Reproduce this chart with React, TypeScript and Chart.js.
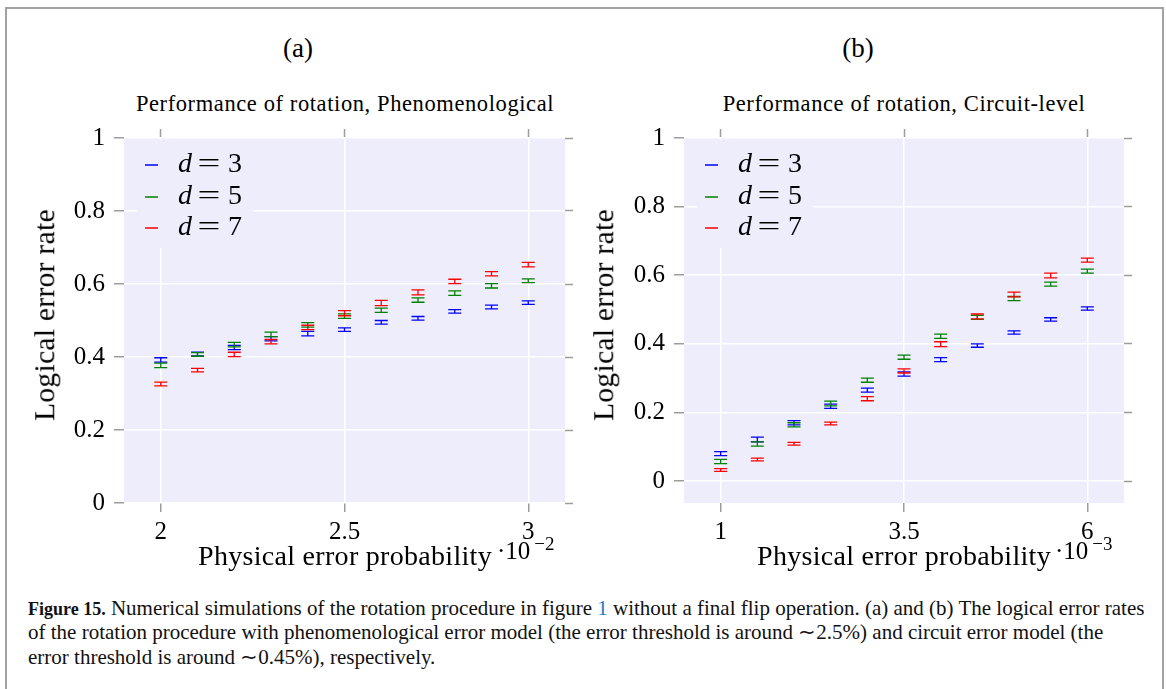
import React, { useEffect, useRef } from "react";
import { Chart, registerables } from "chart.js";

Chart.register(...registerables);

// ---------- data ----------
const SERIES_LABELS = ["3", "5", "7"];
const SERIES_COLORS = ["#0000ff", "#008000", "#ff0000"];

// (a) phenomenological, x in units of 10^-2
const PHEN_X = [2.0, 2.1, 2.2, 2.3, 2.4, 2.5, 2.6, 2.7, 2.8, 2.9, 3.0];
const PHEN_D3 = [0.392, 0.408, 0.426, 0.45, 0.464, 0.475, 0.495, 0.506, 0.525, 0.537, 0.549];
const PHEN_D5 = [0.377, 0.407, 0.434, 0.462, 0.488, 0.512, 0.528, 0.556, 0.575, 0.595, 0.609];
const PHEN_D7 = [0.326, 0.364, 0.407, 0.442, 0.481, 0.52, 0.548, 0.577, 0.607, 0.628, 0.653];
const PHEN_ERR_D3 = [0.006, 0.005, 0.006, 0.006, 0.006, 0.005, 0.005, 0.005, 0.005, 0.005, 0.005];
const PHEN_ERR_D5 = [0.006, 0.005, 0.006, 0.006, 0.006, 0.006, 0.006, 0.006, 0.006, 0.006, 0.005];
const PHEN_ERR_D7 = [0.005, 0.005, 0.006, 0.006, 0.006, 0.007, 0.007, 0.007, 0.006, 0.006, 0.006];
const PHEN_X_TICKS = [2, 2.5, 3];
const PHEN_Y_TICKS = [0, 0.2, 0.4, 0.6, 0.8, 1];

// (b) circuit-level, x in units of 10^-3
const CIRC_X = [1, 1.5, 2, 2.5, 3, 3.5, 4, 4.5, 5, 5.5, 6];
const CIRC_D3 = [0.08, 0.121, 0.17, 0.218, 0.265, 0.312, 0.354, 0.395, 0.433, 0.471, 0.503];
const CIRC_D5 = [0.057, 0.108, 0.164, 0.226, 0.294, 0.361, 0.422, 0.477, 0.532, 0.574, 0.612];
const CIRC_D7 = [0.032, 0.063, 0.109, 0.168, 0.24, 0.321, 0.399, 0.48, 0.544, 0.599, 0.644];
const CIRC_ERR_D3 = [0.006, 0.007, 0.006, 0.006, 0.006, 0.006, 0.006, 0.005, 0.005, 0.005, 0.005];
const CIRC_ERR_D5 = [0.006, 0.006, 0.006, 0.007, 0.006, 0.006, 0.006, 0.006, 0.006, 0.006, 0.006];
const CIRC_ERR_D7 = [0.004, 0.004, 0.004, 0.004, 0.006, 0.006, 0.007, 0.007, 0.007, 0.007, 0.006];
const CIRC_X_TICKS = [1, 3.5, 6];
const CIRC_Y_TICKS = [0, 0.2, 0.4, 0.6, 0.8, 1];

// ---------- style ----------
const FONT = '"Liberation Serif", "Times New Roman", serif';
const BG = "rgb(237,237,252)";
const TICK_GRAY = "#9c9c9c";
const CAP = 6.5;

const bgPlugin = {
  id: "plotBg",
  beforeDraw(chart: any) {
    const { ctx, chartArea: a } = chart;
    ctx.save();
    ctx.fillStyle = BG;
    ctx.fillRect(a.left, a.top, a.right - a.left, a.bottom - a.top);
    ctx.restore();
  },
};

const errorBarPlugin = {
  id: "errorBars",
  afterDatasetsDraw(chart: any) {
    const ctx = chart.ctx;
    const xs = chart.scales.x;
    const ys = chart.scales.y;
    chart.data.datasets.forEach((ds: any) => {
      ctx.save();
      ctx.strokeStyle = ds.borderColor;
      ctx.lineWidth = 1.3;
      ds.data.forEach((pt: any, i: number) => {
        const e = ds.errors[i];
        const px = xs.getPixelForValue(pt.x);
        const yLo = ys.getPixelForValue(pt.y - e);
        const yHi = ys.getPixelForValue(pt.y + e);
        ctx.beginPath();
        ctx.moveTo(px, yLo);
        ctx.lineTo(px, yHi);
        ctx.moveTo(px - CAP, yLo);
        ctx.lineTo(px + CAP, yLo);
        ctx.moveTo(px - CAP, yHi);
        ctx.lineTo(px + CAP, yHi);
        ctx.stroke();
      });
      ctx.restore();
    });
  },
};

const legendPlugin = {
  id: "mathLegend",
  afterDraw(chart: any) {
    const { ctx, chartArea: a } = chart;
    ctx.save();
    ctx.fillStyle = BG;
    ctx.fillRect(a.left + 13, a.top + 2, 116, 108);
    const rows = [27, 59, 90];
    chart.data.datasets.forEach((ds: any, i: number) => {
      const y = a.top + rows[i];
      ctx.strokeStyle = ds.borderColor;
      ctx.lineWidth = 1.5;
      ctx.beginPath();
      ctx.moveTo(a.left + 21, y);
      ctx.lineTo(a.left + 34, y);
      ctx.stroke();
      ctx.fillStyle = "#000";
      ctx.textBaseline = "middle";
      ctx.textAlign = "left";
      ctx.font = `italic 28px ${FONT}`;
      ctx.fillText("d", a.left + 54, y);
      ctx.font = `28px ${FONT}`;
      ctx.save();
      ctx.translate(a.left + 85, y);
      ctx.scale(1.45, 1);
      ctx.textAlign = "center";
      ctx.fillText("=", 0, 0);
      ctx.restore();
      ctx.fillText(ds.label, a.left + 104, y);
    });
    ctx.restore();
  },
};

type Panel = {
  xs: number[];
  series: number[][];
  errors: number[][];
  xTicks: number[];
  yTicks: number[];
  xMin: number;
  xMax: number;
  yMin: number;
  yMax: number;
  rightPad: number;
};

function setTicks(values: number[]) {
  return (s: any) => {
    s.ticks = values.map((v) => ({ value: v }));
  };
}

function buildConfig(p: Panel): any {
  const datasets = p.series.map((vals, si) => ({
    label: SERIES_LABELS[si],
    data: p.xs.map((x, i) => ({ x, y: vals[i] })),
    errors: p.errors[si],
    borderColor: SERIES_COLORS[si],
    backgroundColor: SERIES_COLORS[si],
    pointRadius: 0,
    pointHoverRadius: 0,
    showLine: false,
  }));
  const tickFont = { family: FONT, size: 25 };
  return {
    type: "scatter",
    data: { datasets },
    options: {
      responsive: false,
      animation: false,
      devicePixelRatio: 1,
      layout: { padding: 0 },
      plugins: { legend: { display: false }, tooltip: { enabled: false }, title: { display: false } },
      scales: {
        x: {
          type: "linear",
          position: "bottom",
          min: p.xMin,
          max: p.xMax,
          afterBuildTicks: setTicks(p.xTicks),
          afterFit: (s: any) => {
            s.height = 47;
          },
          border: { display: false },
          grid: { color: "#ffffff", lineWidth: 1.5, tickColor: TICK_GRAY, tickLength: 9, tickWidth: 1.5 },
          ticks: { font: tickFont, color: "#000", padding: 5, autoSkip: false, maxRotation: 0, callback: (v: any) => String(v) },
        },
        x2: {
          type: "linear",
          position: "top",
          min: p.xMin,
          max: p.xMax,
          afterBuildTicks: setTicks(p.xTicks),
          afterFit: (s: any) => {
            s.height = 28;
          },
          border: { display: false },
          grid: { drawOnChartArea: false, tickColor: TICK_GRAY, tickLength: 9, tickWidth: 1.5 },
          ticks: { display: false },
        },
        y: {
          type: "linear",
          position: "left",
          min: p.yMin,
          max: p.yMax,
          afterBuildTicks: setTicks(p.yTicks),
          afterFit: (s: any) => {
            s.width = 124;
          },
          border: { display: false },
          grid: { color: "#ffffff", lineWidth: 1.5, tickColor: TICK_GRAY, tickLength: 10, tickWidth: 1.5 },
          ticks: { font: tickFont, color: "#000", padding: 9, autoSkip: false, callback: (v: any) => String(v) },
        },
        y2: {
          type: "linear",
          position: "right",
          min: p.yMin,
          max: p.yMax,
          afterBuildTicks: setTicks(p.yTicks),
          afterFit: (s: any) => {
            s.width = p.rightPad;
          },
          border: { display: false },
          grid: { drawOnChartArea: false, tickColor: TICK_GRAY, tickLength: 8, tickWidth: 1.5 },
          ticks: { display: false },
        },
      },
    },
    plugins: [bgPlugin, errorBarPlugin, legendPlugin],
  };
}

function PanelChart({ panel, left, top }: { panel: Panel; left: number; top: number }) {
  const ref = useRef<HTMLCanvasElement>(null);
  useEffect(() => {
    const chart = new Chart(ref.current as HTMLCanvasElement, buildConfig(panel));
    return () => chart.destroy();
  }, []);
  return (
    <canvas
      ref={ref}
      width={580}
      height={440}
      style={{ position: "absolute", left, top, width: 580, height: 440 }}
    />
  );
}

const PHEN_PANEL: Panel = {
  xs: PHEN_X,
  series: [PHEN_D3, PHEN_D5, PHEN_D7],
  errors: [PHEN_ERR_D3, PHEN_ERR_D5, PHEN_ERR_D7],
  xTicks: PHEN_X_TICKS,
  yTicks: PHEN_Y_TICKS,
  xMin: 1.9,
  xMax: 3.1,
  yMin: 0,
  yMax: 1,
  rightPad: 15,
};

const CIRC_PANEL: Panel = {
  xs: CIRC_X,
  series: [CIRC_D3, CIRC_D5, CIRC_D7],
  errors: [CIRC_ERR_D3, CIRC_ERR_D5, CIRC_ERR_D7],
  xTicks: CIRC_X_TICKS,
  yTicks: CIRC_Y_TICKS,
  xMin: 0.5,
  xMax: 6.5,
  yMin: -0.064,
  yMax: 1,
  rightPad: 16,
};

const centered = (x: number, y: number, size: number, extra: any = {}): any => ({
  position: "absolute",
  left: x,
  top: y,
  transform: "translate(-50%, -50%)",
  whiteSpace: "nowrap",
  fontFamily: FONT,
  fontSize: size,
  lineHeight: 1,
  color: "#000",
  ...extra,
});

function Multiplier({ x, y, exp }: { x: number; y: number; exp: string }) {
  return (
    <div style={{ position: "absolute", left: x, top: y, whiteSpace: "nowrap", fontFamily: FONT, fontSize: 25, lineHeight: 1 }}>
      ·10
      <span style={{ position: "relative", top: -9, marginLeft: 4, fontSize: 19 }}>{exp}</span>
    </div>
  );
}

export default function App() {
  const capStyle: any = {
    position: "absolute",
    left: 28,
    whiteSpace: "nowrap",
    fontFamily: FONT,
    fontSize: 21,
    lineHeight: 1,
    color: "#111",
    transform: "translateY(-50%)",
  };
  const yTitle = { transform: "translate(-50%, -50%) rotate(-90deg)", letterSpacing: "0.3px" };
  const xTitle = { letterSpacing: "0.3px" };
  const subTitle = { letterSpacing: "0.6px" };
  return (
    <div style={{ position: "absolute", left: 0, top: 0, width: 1166, height: 689, background: "#fff", overflow: "hidden" }}>
      <div
        style={{
          position: "absolute",
          left: 5,
          top: 7,
          width: 1155,
          height: 700,
          border: "2px solid #a2a2a2",
          borderBottom: "none",
        }}
      />
      <div style={centered(298, 48, 27)}>(a)</div>
      <div style={centered(858, 48, 27)}>(b)</div>
      <div style={centered(345, 104, 22.5, subTitle)}>Performance of rotation, Phenomenological</div>
      <div style={centered(904, 104, 22.5, subTitle)}>Performance of rotation, Circuit-level</div>

      <PanelChart panel={PHEN_PANEL} left={0} top={110} />
      <PanelChart panel={CIRC_PANEL} left={560} top={110} />

      <div style={centered(45, 315, 29.5, yTitle)}>Logical error rate</div>
      <div style={centered(604, 315, 29.5, yTitle)}>Logical error rate</div>

      <div style={centered(345, 556, 28, xTitle)}>Physical error probability</div>
      <div style={centered(904, 556, 28, xTitle)}>Physical error probability</div>
      <Multiplier x={497} y={538} exp="−2" />
      <Multiplier x={1055} y={538} exp="−3" />

      <div style={{ ...capStyle, top: 608 }}>
        <b style={{ fontSize: 18 }}>Figure 15.</b> Numerical simulations of the rotation procedure in figure{" "}
        <span style={{ color: "#1f78c1" }}>1</span> without a final flip operation. (a) and (b) The logical error rates
      </div>
      <div style={{ ...capStyle, top: 632 }}>
        of the rotation procedure with phenomenological error model (the error threshold is around ∼2.5%) and circuit error model (the
      </div>
      <div style={{ ...capStyle, top: 657 }}>error threshold is around ∼0.45%), respectively.</div>
    </div>
  );
}
